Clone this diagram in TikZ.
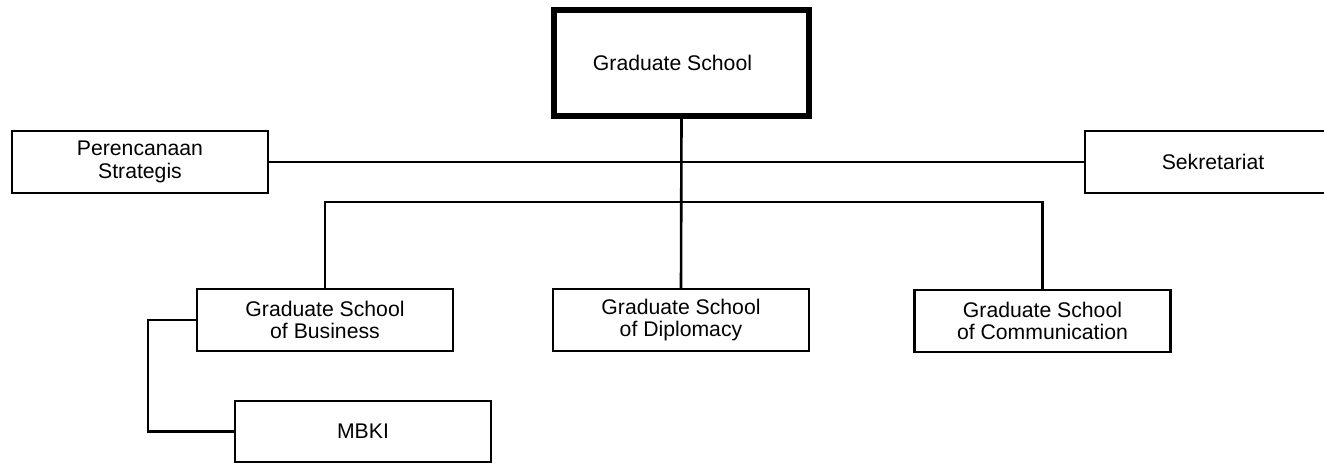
\documentclass[tikz,border=0pt]{standalone}
\usepackage{fontspec}
\setmainfont{Liberation Sans}
\usetikzlibrary{positioning}
\tikzset{unit/.style={draw, line width=1.2pt, rectangle, minimum width=128pt, minimum height=31pt, inner sep=0pt, align=center, font=\fontsize{10.6}{11.2}\selectfont},
  head/.style={unit, line width=3pt, minimum width=127.5pt, minimum height=53pt},
  link/.style={line width=1.3pt}}

\begin{document}
\begin{tikzpicture}[x=0.5pt, y=-0.5pt]
  \useasboundingbox (0,0) rectangle (1324,462);

  % top
  \node[head] (gs) at (681.5,63) {\hspace*{-9pt}Graduate School};

  % staff
  \node[unit] (per) at (140,162) {Perencanaan\\Strategis};
  \node[unit] (sek) at (1213,162) {Sekretariat};

  % schools
  \node[unit] (bus) at (325,320) {Graduate School\\of Business};
  \node[unit] (dip) at (681,320) {Graduate School\\of Diplomacy};
  \node[unit] (com) at (1042.5,321) {Graduate School\\of Communication};
  \node[unit, minimum height=30.5pt] (mbki) at (363,431.5) {MBKI};

  % lines
  \coordinate (bar) at (681,202);
  \draw[link] (gs.south) -- (dip.north);
  \draw[link] (per) -- (sek);
  \draw[link] (bus.north) |- (bar) -| (com.north);
  \draw[link] (bus.west) -- ++(-48,0) |- (mbki.west);

\end{tikzpicture}
\end{document}
